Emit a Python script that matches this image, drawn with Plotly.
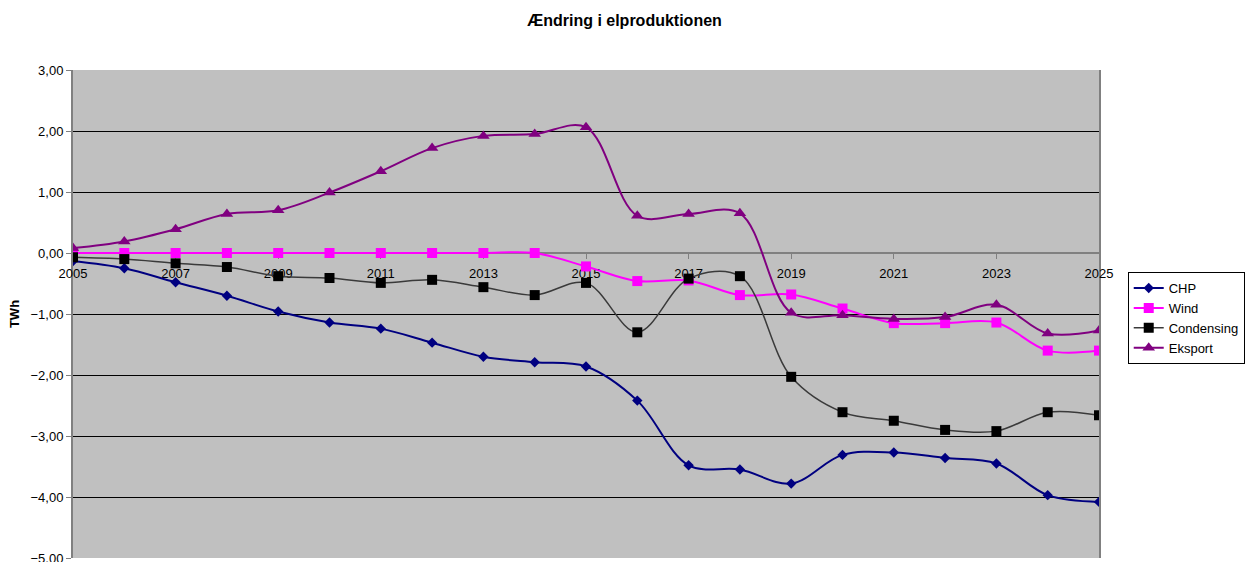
import plotly.graph_objects as go

# Years on the category axis
years = list(range(2005, 2026))

# Change in electricity production, TWh
chp = [-0.13, -0.25, -0.48, -0.70, -0.96, -1.14, -1.24, -1.47, -1.70, -1.79, -1.86,
       -2.42, -3.48, -3.55, -3.78, -3.31, -3.27, -3.36, -3.45, -3.97, -4.08]
wind = [0.00, 0.00, 0.00, 0.00, 0.00, 0.00, 0.00, 0.00, 0.00, 0.00, -0.22,
        -0.46, -0.45, -0.69, -0.68, -0.91, -1.15, -1.15, -1.14, -1.60, -1.60]
condensing = [-0.07, -0.10, -0.17, -0.23, -0.38, -0.41, -0.49, -0.44, -0.56, -0.69, -0.49,
              -1.30, -0.42, -0.38, -2.03, -2.61, -2.75, -2.90, -2.92, -2.61, -2.66]
eksport = [0.08, 0.19, 0.39, 0.64, 0.70, 0.99, 1.34, 1.72, 1.92, 1.95, 2.06,
           0.61, 0.64, 0.65, -0.98, -1.02, -1.08, -1.05, -0.85, -1.32, -1.27]

FONT = "Liberation Sans, Arial, sans-serif"

series = [
    ("CHP", chp, "#000080", "#000080", "diamond", 8, 2),
    ("Wind", wind, "#FF00FF", "#FF00FF", "square", 10, 2),
    ("Condensing", condensing, "#3a3a3a", "#000000", "square", 10, 1.5),
    ("Eksport", eksport, "#800080", "#800080", "triangle-up", 11, 2),
]

fig = go.Figure()
for name, vals, lcol, mcol, sym, msize, lw in series:
    fig.add_trace(go.Scatter(
        x=years, y=vals, name=name, mode="lines+markers",
        line=dict(color=lcol, width=lw, shape="spline", smoothing=1.0),
        marker=dict(symbol=sym, size=msize, color=mcol, line=dict(width=0)),
    ))

y_min, y_max = -5, 3

fig.update_layout(
    width=1249, height=562,
    margin=dict(l=73, r=150, t=70, b=4),
    paper_bgcolor="white",
    plot_bgcolor="#C0C0C0",
    font=dict(family=FONT, size=13, color="black"),
    separators=", ",
    title=dict(text="<b>Ændring i elproduktionen</b>", x=0.5, xanchor="center",
               y=0.963, yanchor="middle", font=dict(size=16, family=FONT)),
    showlegend=True,
    legend=dict(x=1.028, y=0.586, xanchor="left", yanchor="top",
                bgcolor="white", bordercolor="black", borderwidth=1,
                font=dict(size=13, family=FONT), tracegroupgap=0),
    xaxis=dict(
        range=[2005, 2025], tick0=2005, dtick=2, tickformat="d",
        anchor="free", position=(0 - y_min) / (y_max - y_min),
        showgrid=False, zeroline=False,
        showline=True, linecolor="#808080", linewidth=2,
        ticks="outside", ticklen=5, tickcolor="#808080", tickwidth=1,
        ticklabelstandoff=3, layer="below traces", automargin=False,
    ),
    yaxis=dict(
        range=[y_min, y_max], dtick=1, tickformat=".2f",
        showgrid=True, gridcolor="black", gridwidth=1, zeroline=False,
        showline=True, linecolor="#808080", linewidth=2, mirror=True,
        ticks="outside", ticklen=5, tickcolor="#808080",
        ticklabeloverflow="allow", automargin=False,
        title=dict(text="<b>TWh</b>", font=dict(size=13, family=FONT), standoff=8),
        layer="below traces",
    ),
)

fig.write_html("out.html")
